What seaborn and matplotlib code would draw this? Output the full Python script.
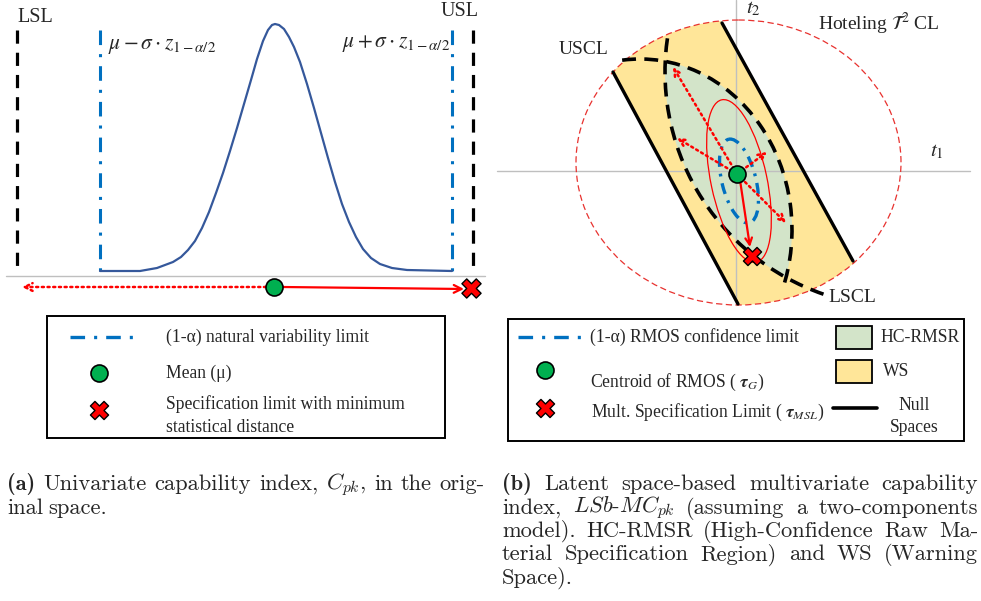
import numpy as np
import pandas as pd
import seaborn as sns
import matplotlib
matplotlib.use("Agg")
import matplotlib.pyplot as plt
from matplotlib.patches import Ellipse, Arc, Polygon, Rectangle

# ---------------- data (pixel-like units) ----------------
curve_x = [100, 140, 157, 173, 181, 188, 195, 202, 209, 216, 223, 230, 237, 244, 251,
           257, 263, 268, 272, 275, 279, 284, 289, 294, 300, 307, 314, 321, 328, 335,
           342, 349, 356, 363, 371, 380, 392, 407, 452]
curve_y = [271, 271, 268, 262, 257, 250, 241, 228, 212, 193, 173, 151, 128, 104, 80,
           59, 41, 30, 25, 24, 25, 29, 37, 47, 62, 84, 108, 133, 158, 182,
           204, 222, 237, 249, 258, 264, 268, 270, 271]
spec_limits_x = [17, 473]          # LSL, USL
spec_labels = ["LSL", "USL"]
natural_limits_x = [100, 452]      # mu -/+ sigma*z
mean_point = [274, 287]
msl_point_a = [471, 288]

centroid_b = [737, 174]
msl_point_b = [752, 256]
dotted_targets_b = [(673, 67), (786, 223), (677, 138), (767, 152)]

caption_a = ["(a) Univariate capability index, $C_{pk}$, in the orig-", "inal space."]
caption_b = ["(b) Latent space-based multivariate capability",
             "index, $LSb$-$MC_{pk}$ (assuming a two-components",
             "model).  HC-RMSR (High-Confidence Raw Ma-",
             "terial Specification Region) and WS (Warning",
             "Space)."]

# ---------------- style ----------------
sns.set_theme(style="white")
plt.rcParams["font.family"] = ["Liberation Serif", "DejaVu Serif"]
plt.rcParams["lines.scale_dashes"] = False

BLUE = "#0070C0"
CURVE = "#35589B"
GREEN = "#00B050"
RED = "#FF0000"
GRAY = "#BFBFBF"
YELLOW = "#FFE699"
LGREEN = "#D3E4C9"
DASHDOT = (0, (10.5, 6.5, 2.2, 6.5))
BDASH = (0, (9.5, 6.5))
DOTTED = (0, (1.5, 2.6))

fig = plt.figure(figsize=(9.81, 6.01), dpi=100)
ax = fig.add_axes([0, 0, 1, 1])
ax.set_xlim(0, 981)
ax.set_ylim(601, 0)
ax.axis("off")

# ================= panel (a) =================
ax.plot([6, 485], [276, 276], color=GRAY, lw=1.0, zorder=1)
for x in spec_limits_x:
    ax.plot([x, x], [30, 270], color="black", lw=2.3, linestyle=BDASH, zorder=2)
for x in natural_limits_x:
    ax.plot([x, x], [30, 276], color=BLUE, lw=2.2, linestyle=DASHDOT, zorder=2)
sns.lineplot(x=curve_x, y=curve_y, ax=ax, color=CURVE, lw=1.6, zorder=3, sort=False)

ax.text(35, 17, spec_labels[0], ha="center", va="center", fontsize=14.5)
ax.text(460, 12, spec_labels[1], ha="center", va="center", fontsize=14.5)
ax.text(108, 46, r"$\mu - \sigma \cdot z_{1-\alpha/2}$", ha="left", va="center",
        fontsize=15.5, math_fontfamily="stix")
ax.text(450, 43, r"$\mu + \sigma \cdot z_{1-\alpha/2}$", ha="right", va="center",
        fontsize=15.5, math_fontfamily="stix")

ax.annotate("", xy=(22, 287), xytext=(266, 287),
            arrowprops=dict(arrowstyle="->", color=RED, lw=1.8, linestyle=DOTTED,
                            shrinkA=0, shrinkB=0, mutation_scale=14), zorder=4)
ax.annotate("", xy=(464, 289), xytext=(282, 287),
            arrowprops=dict(arrowstyle="->", color=RED, lw=1.6,
                            shrinkA=0, shrinkB=0, mutation_scale=14), zorder=4)
sns.scatterplot(x=[mean_point[0]], y=[mean_point[1]], ax=ax, marker="o", s=150,
                color=GREEN, edgecolor="black", linewidth=1.2, zorder=5)
sns.scatterplot(x=[msl_point_a[0]], y=[msl_point_a[1]], ax=ax, marker="X", s=190,
                color=RED, edgecolor="black", linewidth=1.0, zorder=5)

# legend (a)
ax.add_patch(Rectangle((47, 316), 398, 122, fill=False, ec="black", lw=1.4, zorder=2))
ax.plot([70, 135], [337, 337], color=BLUE, lw=2.4, linestyle=DASHDOT)
sns.scatterplot(x=[99], y=[373], ax=ax, marker="o", s=150, color=GREEN,
                edgecolor="black", linewidth=1.2, zorder=5)
sns.scatterplot(x=[99], y=[410], ax=ax, marker="X", s=170, color=RED,
                edgecolor="black", linewidth=1.0, zorder=5)
fs_leg = 12.7
ax.text(166, 337, "(1-α) natural variability limit", va="center", fontsize=fs_leg)
ax.text(166, 373, "Mean (μ)", va="center", fontsize=fs_leg)
ax.text(166, 404, "Specification limit with minimum", va="center", fontsize=fs_leg)
ax.text(166, 427, "statistical distance", va="center", fontsize=fs_leg)

# ================= panel (b) =================
hot_c, hot_w, hot_h = (738.5, 162.5), 325, 285
L0, L1 = np.array([613, 72]), np.array([738, 304])
R0, R1 = np.array([722, 23]), np.array([853, 261])
band = Polygon([L0 - 0.5 * (L1 - L0), L0 + 1.5 * (L1 - L0),
                R0 + 1.5 * (R1 - R0), R0 - 0.5 * (R1 - R0)],
               closed=True, fc=YELLOW, ec="none", zorder=1)
ax.add_patch(band)
band.set_clip_path(Ellipse(hot_c, hot_w, hot_h, transform=ax.transData))

green = Ellipse((640, 230), 304, 342, fc=LGREEN, ec="none", zorder=1.2)
ax.add_patch(green)
green.set_clip_path(Ellipse((900, 72), 470, 470, transform=ax.transData))

ax.add_patch(Ellipse(hot_c, hot_w, hot_h, fill=False, ec="#E8322F", lw=0.9,
                     linestyle=(0, (4.5, 2.5)), zorder=2))
ax.plot([497, 970], [171, 171], color=GRAY, lw=1.0, zorder=1.5)
ax.plot([736, 736], [0, 305], color=GRAY, lw=1.0, zorder=1.5)

ax.plot([L0[0], L1[0]], [L0[1], L1[1]], color="black", lw=2.4, zorder=2.5)
ax.plot([R0[0], R1[0]], [R0[1], R1[1]], color="black", lw=2.4, zorder=2.5)
ax.add_patch(Arc((900, 72), 470, 470, theta1=109, theta2=190, ec="black", lw=2.6,
                 linestyle=(0, (10, 6)), zorder=2.6))
ax.add_patch(Arc((640, 230), 304, 342, theta1=264, theta2=23, ec="black", lw=2.6,
                 linestyle=(0, (10, 6)), zorder=2.6))

ax.add_patch(Ellipse((739, 181), 56, 166, angle=-12, fill=False, ec=RED, lw=0.9, zorder=3))
ax.add_patch(Ellipse((739, 181), 34, 86, angle=-14, fill=False, ec=BLUE, lw=2.4,
                     linestyle=(0, (8, 5, 2, 5)), zorder=3))

for tx, ty in dotted_targets_b:
    ax.annotate("", xy=(tx, ty), xytext=tuple(centroid_b),
                arrowprops=dict(arrowstyle="->", color=RED, lw=1.8, linestyle=DOTTED,
                                shrinkA=0, shrinkB=0, mutation_scale=12), zorder=4)
ax.annotate("", xy=(750, 247), xytext=(740, 180),
            arrowprops=dict(arrowstyle="->", color=RED, lw=1.6,
                            shrinkA=0, shrinkB=0, mutation_scale=12), zorder=4)
sns.scatterplot(x=[centroid_b[0]], y=[centroid_b[1]], ax=ax, marker="o", s=150,
                color=GREEN, edgecolor="black", linewidth=1.2, zorder=5)
sns.scatterplot(x=[msl_point_b[0]], y=[msl_point_b[1]], ax=ax, marker="X", s=170,
                color=RED, edgecolor="black", linewidth=1.0, zorder=5)

ax.text(584, 50, "USCL", ha="center", va="center", fontsize=14)
ax.text(852, 297, "LSCL", ha="center", va="center", fontsize=14)
ax.text(818, 24, r"Hoteling $\mathcal{T}^2$ CL", ha="left", va="center", fontsize=14,
        math_fontfamily="stix")
ax.text(746, 9, r"$t_2$", ha="left", va="center", fontsize=15, math_fontfamily="stix")
ax.text(930, 152, r"$t_1$", ha="left", va="center", fontsize=15, math_fontfamily="stix")

# legend (b)
ax.add_patch(Rectangle((508, 319), 456, 122, fill=False, ec="black", lw=1.4, zorder=2))
ax.plot([518, 582], [337, 337], color=BLUE, lw=2.4, linestyle=DASHDOT)
sns.scatterplot(x=[545], y=[370], ax=ax, marker="o", s=150, color=GREEN,
                edgecolor="black", linewidth=1.2, zorder=5)
sns.scatterplot(x=[545], y=[408], ax=ax, marker="X", s=170, color=RED,
                edgecolor="black", linewidth=1.0, zorder=5)
ax.text(590, 337, "(1-α) RMOS confidence limit", va="center", fontsize=fs_leg)
ax.text(590, 382, r"Centroid of RMOS ( $\mathbfit{\tau}_G$)", va="center", fontsize=fs_leg,
        math_fontfamily="stix")
ax.text(591, 412, r"Mult. Specification Limit ( $\mathbfit{\tau}_{MSL}$)", va="center",
        fontsize=fs_leg, math_fontfamily="stix")
ax.add_patch(Rectangle((836, 326), 36, 23, fc=LGREEN, ec="black", lw=1.3, zorder=2))
ax.add_patch(Rectangle((836, 360), 36, 23, fc=YELLOW, ec="black", lw=1.3, zorder=2))
ax.plot([833, 877], [408, 408], color="black", lw=2.6)
ax.text(880, 337, "HC-RMSR", va="center", fontsize=fs_leg)
ax.text(883, 372, "WS", va="center", fontsize=fs_leg)
ax.text(914, 405, "Null", ha="center", va="center", fontsize=fs_leg)
ax.text(914, 428, "Spaces", ha="center", va="center", fontsize=fs_leg)

# ================= captions (justified) =================
renderer = fig.canvas.get_renderer()
FS_CAP = 16.2


def place_lines(lines, x0, x1, y0, dy):
    for i, line in enumerate(lines):
        words = line.split()
        texts = []
        for w in words:
            fam = "cmb10" if w in ("(a)", "(b)") else "cmr10"
            texts.append(ax.text(x0, y0 + i * dy, w, ha="left", va="baseline",
                                 fontsize=FS_CAP, family=fam, math_fontfamily="cm"))
        widths = [t.get_window_extent(renderer).width for t in texts]
        last = i == len(lines) - 1
        gap = 5.5 if last or len(texts) < 2 else (x1 - x0 - sum(widths)) / (len(texts) - 1)
        x = x0
        for t, w in zip(texts, widths):
            t.set_x(x)
            x += w + gap


place_lines(caption_a, 7, 485, 490, 23.5)
place_lines(caption_b, 502, 978, 490, 23.5)

fig.savefig("out.png", dpi=100)
